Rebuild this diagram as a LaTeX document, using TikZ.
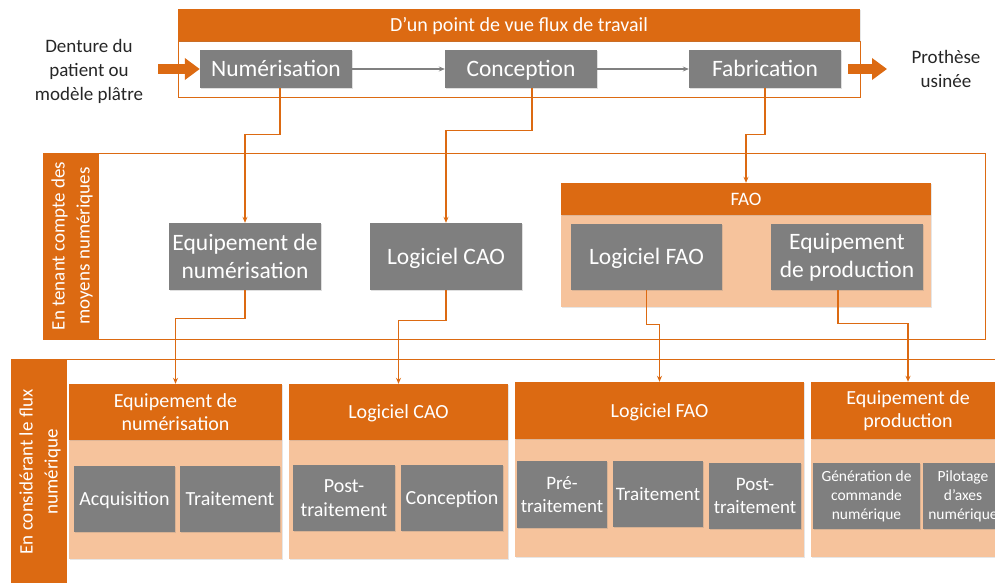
\documentclass[tikz,border=0pt]{standalone}
\usepackage{fontspec}
\setmainfont{Carlito}
\usetikzlibrary{arrows.meta,shadows}
\definecolor{orng}{HTML}{DC6A12}
\definecolor{peach}{HTML}{F6C39C}
\definecolor{gbox}{HTML}{7F7F7F}
\definecolor{gline}{HTML}{808080}
\begin{document}
\begin{tikzpicture}[x=1pt,y=-1pt,
  graybox/.style={fill=gbox, text=white, inner sep=0pt, align=center,
    drop shadow={shadow xshift=1pt,shadow yshift=-1.2pt,opacity=0.25}},
  headbox/.style={fill=orng, text=white, inner sep=0pt, align=center,
    drop shadow={shadow xshift=1pt,shadow yshift=-1.2pt,opacity=0.2}},
  bodybox/.style={fill=peach, inner sep=0pt,
    drop shadow={shadow xshift=1pt,shadow yshift=-1.2pt,opacity=0.2}},
  framebox/.style={draw=orng, line width=1pt, inner sep=0pt},
  strip/.style={fill=orng, inner sep=0pt},
  conn/.style={draw=orng, line width=1.3pt, -{Stealth[length=6pt,width=5pt]}},
  grayflow/.style={draw=gline, fill=gline, line width=1.2pt, -{Stealth[length=6pt,width=5pt]}},
  bigarrow/.style={draw=orng, line width=10pt, -{Triangle[length=15pt,width=21pt]}},
  sz/.style 2 args={font=\fontsize{#1}{#2}\selectfont},
  wh/.style 2 args={minimum width=#1pt, minimum height=#2pt},
  oneline/.style 2 args={text height=#1pt, text depth=#2pt}
]
\useasboundingbox (0,0) rectangle (995,582);
\clip (0,0) rectangle (995,582);

% ---------- top band ----------
\node[framebox, wh={682}{56}] (topframe) at (519,69) {};
\node[headbox, wh={682}{32}, sz={20}{24}, oneline={15}{2}] (tophead) at (519,25) {D’un point de vue flux de travail};
\node[graybox, wh={152}{38}, sz={23.5}{27}, oneline={17}{2}] (num) at (276,69) {Numérisation};
\node[graybox, wh={152}{38}, sz={23.5}{27}, oneline={17}{2}] (con) at (521,69) {Conception};
\node[graybox, wh={152}{38}, sz={23.5}{27}, oneline={17}{2}] (fab) at (765,69) {Fabrication};
\draw[grayflow] (num.east) -- (con.west);
\draw[grayflow] (con.east) -- (fab.west);

\node[align=center, text=black!85, sz={19}{24}] (intext) at (89,71) {Denture du\\patient ou\\modèle plâtre};
\node[align=center, text=black!85, sz={19}{24}] (outtext) at (946,69) {Prothèse\\usinée};
\coordinate (inL) at (158,69);
\coordinate (outR) at (887,69);
\draw[bigarrow] (inL) -- (num.west);
\draw[bigarrow] ([xshift=7pt]fab.east) -- (outR);

% ---------- middle band ----------
\node[framebox, wh={942}{186}] (midframe) at (514,246) {};
\node[strip, wh={56}{186}] (midstrip) at (71,246) {};
\node[rotate=90, text=white, align=center, sz={19}{25}] (midlabel) at (72,246) {En tenant compte des\\moyens numériques};

\node[graybox, wh={152}{67}, sz={23.5}{28}] (eqn) at (245,256.5) {Equipement de\\numérisation};
\node[graybox, wh={152}{67}, sz={23.5}{28}, oneline={17}{2}] (cao) at (446,256.5) {Logiciel CAO};
\node[bodybox, wh={370}{92}] (faobody) at (746,261) {};
\node[headbox, wh={370}{32}, sz={19}{23}, oneline={14}{2}] (faohead) at (746,199) {FAO};
\node[graybox, wh={151}{66}, sz={23.5}{28}, oneline={17}{2}] (lfao) at (646.5,257) {Logiciel FAO};
\node[graybox, wh={152}{66}, sz={23.5}{28}] (eqp) at (847,257) {Equipement\\de production};

\draw[conn] ([xshift=4pt]num.south) -- ++(0,46) -| (eqn.north);
\draw[conn] ([xshift=11pt]con.south) -- ++(0,42) -| (cao.north);
\draw[conn] (fab.south) -- ++(0,46) -| (faohead.north);

% ---------- bottom band ----------
\node[framebox, wh={1000}{250}] (botframe) at (511,484) {};
\node[strip, wh={56}{250}] (botstrip) at (39,484) {};
\node[rotate=90, text=white, align=center, sz={19}{25}] (botlabel) at (40,472) {En considérant le flux\\numérique};

% group 1
\node[bodybox, wh={213}{119}] (g1b) at (175.5,499.5) {};
\node[headbox, wh={213}{56}, sz={20}{23}] (g1h) at (175.5,412) {Equipement de\\numérisation};
\node[graybox, wh={101}{66}, sz={20}{24}, oneline={15}{2}] (acq) at (124.5,499) {Acquisition};
\node[graybox, wh={100}{66}, sz={20}{24}, oneline={15}{2}] (trt1) at (230,499) {Traitement};
% group 2
\node[bodybox, wh={219}{119}] (g2b) at (398.5,499.5) {};
\node[headbox, wh={219}{56}, sz={20}{23}, oneline={15}{2}] (g2h) at (398.5,412) {Logiciel CAO};
\node[graybox, wh={102}{66}, sz={20}{24}] (post1) at (344,498) {Post-\\traitement};
\node[graybox, wh={102}{66}, sz={20}{24}, oneline={15}{2}] (conc2) at (452,498) {Conception};
% group 3
\node[bodybox, wh={289}{118}] (g3b) at (659.5,498) {};
\node[headbox, wh={289}{57}, sz={20}{23}, oneline={15}{2}] (g3h) at (659.5,410.5) {Logiciel FAO};
\node[graybox, wh={90}{67}, sz={19}{23}] (pre) at (562,494.5) {Pré-\\traitement};
\node[graybox, wh={90}{66}, sz={19}{23}, oneline={14}{2}] (trt2) at (658,494) {Traitement};
\node[graybox, wh={92}{66}, sz={19}{23}] (post2) at (755,496) {Post-\\traitement};
% group 4
\node[bodybox, wh={194}{118}] (g4b) at (908,498) {};
\node[headbox, wh={194}{57}, sz={20}{23}] (g4h) at (908,410.5) {Equipement de\\production};
\node[graybox, wh={107}{66}, sz={15.5}{19}] (gen) at (866.5,496) {Génération de\\commande\\numérique};
\node[graybox, wh={80}{66}, sz={15.5}{19}] (pil) at (963,496) {Pilotage\\d’axes\\numérique};

\draw[conn] (eqn.south) -- ++(0,28) -| (g1h.north);
\draw[conn] (cao.south) -- ++(0,30) -| (g2h.north);
\draw[conn] (lfao.south) -- ++(0,34) -| (g3h.north);
\draw[conn] ([xshift=-9pt]eqp.south) -- ++(0,33) -| (g4h.north);
\end{tikzpicture}
\end{document}
